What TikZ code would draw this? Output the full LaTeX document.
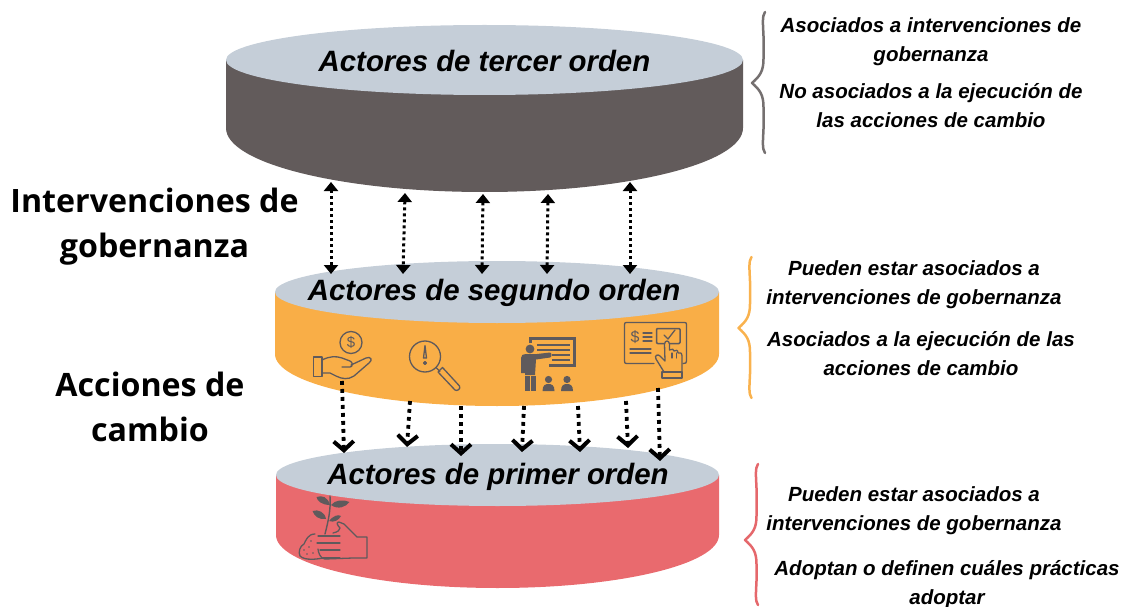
\documentclass[tikz,border=0pt]{standalone}
\usepackage{fontspec}
\setmainfont{Liberation Sans}
\newfontfamily\headfont{Open Sans}
\usetikzlibrary{arrows.meta}
\definecolor{cylGrey}{HTML}{C5CED8}
\definecolor{cylDark}{HTML}{625B5B}
\definecolor{cylOrange}{HTML}{F9AE47}
\definecolor{cylRed}{HTML}{E96A6E}
\definecolor{iconInk}{HTML}{5F5A5C}
\definecolor{braceGrey}{HTML}{757070}
\definecolor{braceOrange}{HTML}{F9B24E}
\definecolor{braceRed}{HTML}{E5686C}
\tikzset{
  cyltitle/.style={font=\bfseries\itshape\fontsize{29.4}{30}\selectfont,inner sep=0pt,text=black},
  sidenote/.style={font=\bfseries\itshape\fontsize{20.5}{29}\selectfont,align=center,inner sep=0pt,text=black},
  headnote/.style={font=\headfont\bfseries\fontsize{32.2}{45}\selectfont,align=center,inner sep=0pt,text=black},
  dbl/.style={line width=3pt,dash pattern=on 3pt off 3pt,{Triangle[length=9pt,width=14pt]}-{Triangle[length=9pt,width=14pt]},black},
  down/.style={line width=3.8pt,dash pattern=on 3.8pt off 4.2pt,-{Straight Barb[length=9pt,width=20pt,line width=4pt]},black},
  bracestroke/.style={line width=2.5pt,line cap=round,line join=round},
  icon/.style={draw=iconInk,line width=1.3pt,line cap=round,line join=round},
  iconfill/.style={fill=iconInk,draw=none},
}
\newcommand{\cyl}[8]{%
  \fill[#7] (#1-#2,#3) -- (#1-#2,#5) arc[start angle=180,end angle=360,x radius=#2,y radius=-#6] -- (#1+#2,#3) -- cycle;
  \fill[cylGrey] (#1,#3) ellipse[x radius=#2,y radius=#4];
}
\newcommand{\bracecurl}[5]{% spine x, tip x, top y, mid y, bottom y
  \draw[bracestroke] (#1+2,#3) .. controls (#1-1,#3+4) and (#1,#3+12) .. (#1+.5,#3+24)
    -- (#1+.5,#4-24)
    .. controls (#1+.5,#4-12) and (#1-3,#4-7) .. (#2,#4)
    .. controls (#1-3,#4+7) and (#1+.5,#4+12) .. (#1+.5,#4+24)
    -- (#1+.5,#5-24)
    .. controls (#1,#5-12) and (#1-1,#5-4) .. (#1+2,#5);
}
\begin{document}
\begin{tikzpicture}[x=1pt,y=-1pt]
\useasboundingbox (0,0) rectangle (1122,607);
% cylinders
\cyl{484.5}{258.5}{60}{35}{128}{64}{cylDark}{}
\cyl{497}{222}{292}{31}{354}{52}{cylOrange}{}
\cyl{497.5}{221.5}{475}{31}{535}{53}{cylRed}{}
% titles
\node[cyltitle] (t3) at (484.5,60.5) {Actores de tercer orden};
\node[cyltitle] (t2) at (494,293) {Actores de segundo orden};
\node[cyltitle] (t1) at (498,477) {Actores de primer orden};
% headings
\node[headnote] (h1) at (154.5,226.5) {Intervenciones de\\gobernanza};
\node[headnote] (h2) at (150,407) {Acciones de\\cambio};
% side notes
\node[sidenote] (n1) at (931,42) {Asociados a intervenciones de\\gobernanza};
\node[sidenote] (n2) at (931,106) {No asociados a la ejecución de\\las acciones de cambio};
\node[sidenote] (n3) at (914,285) {Pueden estar asociados a\\intervenciones de gobernanza};
\node[sidenote] (n4) at (921,354) {Asociados a la ejecución de las\\acciones de cambio};
\node[sidenote] (n5) at (914,511) {Pueden estar asociados a\\intervenciones de gobernanza};
\node[sidenote] (n6) at (947,585) {Adoptan o definen cuáles prácticas\\adoptar};
% braces
\begin{scope}[draw=braceGrey]\bracecurl{763}{752}{12}{83}{153}\end{scope}
\begin{scope}[draw=braceOrange]\bracecurl{749.5}{738.5}{257}{328}{398}\end{scope}
\begin{scope}[draw=braceRed]\bracecurl{756}{745}{464}{540}{605}\end{scope}
% double arrows
\foreach \n/\xa/\ya/\xb in {a/331/182/331,b/405/193/403,c/483/194/482,d/548/194/547,e/630/182/630}{
  \coordinate (up\n) at (\xa,\ya);
  \coordinate (lo\n) at (\xb,274);
  \draw[dbl] (up\n) -- (lo\n);
}
% down arrows
\foreach \n/\xa/\ya/\xb/\yb in {a/342/381/344/453,b/410/401/407/447,c/461/406/461/456,d/524/406/522/452,e/578/406/580/452,f/626/401/628/448,g/658/388/660/461}{
  \coordinate (from\n) at (\xa,\ya);
  \coordinate (to\n) at (\xb,\yb);
  \draw[down] (from\n) -- (to\n);
}
% ---- icon: hand with coin
\draw[icon] (351,342.5) circle[radius=11];
\node[text=iconInk,font=\fontsize{15}{15}\selectfont,inner sep=0pt] (coin) at (351,342.5) {\$};
\draw[icon] (313.5,357) rectangle (322,376.5);
\draw[icon] (322,360) .. controls (330,356) and (336,356) .. (342,358) -- (350,361) .. controls (353,362) and (353,367) .. (350,367) -- (342,367)
 (351,365) -- (366,358) .. controls (371,356) and (373,360) .. (369,363) -- (354,376) .. controls (348,380) and (342,379) .. (336,376) -- (330,373) -- (322,373);
% ---- icon: magnifier
\draw[icon] (425,356.5) circle[radius=15.5];
\draw[icon] (425,345.5) -- (423.5,358) -- (426.5,358) -- cycle;
\draw[icon] (425,363) circle[radius=1.4];
\draw[icon] (436,367.5) -- (440,371.5);
\draw[icon] (438,372) -- (442.5,367.5) -- (459.5,386) .. controls (461,389) and (457,391.5) .. (455,390) -- cycle;
% ---- icon: teacher and board
\draw[iconInk,line width=3pt] (530.5,343) -- (530.5,338.5) -- (574.5,338.5) -- (574.5,365.5) -- (549,365.5);
\draw[iconInk,line width=1.7pt] (537,345) -- (570,345) (537,350) -- (570,350) (552,355) -- (570,355) (552,360) -- (570,360);
\fill[iconfill] (530,349) circle[radius=4.4];
\fill[iconfill] (521,358) .. controls (521,355) and (523,354) .. (526,354) -- (537,354) -- (550,352.5) .. controls (552,352.5) and (552,357.5) .. (550,357.5) -- (536,359.5) -- (535,375) -- (525,375) -- (525,373) -- (521,373) -- cycle;
\fill[iconfill] (525,376) rectangle (529.5,391);
\fill[iconfill] (531,376) rectangle (535.5,391);
\foreach \n/\cx in {p/548.5,q/567}{
  \fill[iconfill] (\cx,379.5) circle[radius=3.6];
  \fill[iconfill] (\cx-6,391) .. controls (\cx-6,385) and (\cx-3,384) .. (\cx,384) .. controls (\cx+3,384) and (\cx+6,385) .. (\cx+6,391) -- cycle;
}
% ---- icon: touch screen
\draw[icon] (654,363.5) -- (626.5,363.5) .. controls (625,363.5) and (624.5,363) .. (624.5,361) -- (624.5,324.5) .. controls (624.5,323) and (625,322.5) .. (626.5,322.5) -- (684.5,322.5) .. controls (686,322.5) and (686.5,323) .. (686.5,324.5) -- (686.5,361) .. controls (686.5,363) and (686,363.5) .. (683,363.5);
\node[text=iconInk,font=\fontsize{16}{16}\selectfont,inner sep=0pt] (cash) at (635,337) {\$};
\draw[icon] (643,333) -- (652,333) (643,337) -- (652,337) (643,341) -- (652,341);
\draw[icon] (630,349) -- (651,349) (630,353) -- (651,353);
\draw[icon,line width=1.5pt,rounded corners=1pt] (656.5,328.5) rectangle (680,343.5);
\draw[icon] (664,335) -- (668,339) -- (675,330);
\draw[icon,fill=cylOrange] (664,372) -- (656,359) .. controls (654,355) and (658,354) .. (660,356) -- (665,361) -- (664.5,344) .. controls (665,340) and (669,340) .. (669.5,344) -- (669.5,350) .. controls (672,348.5) and (674,349) .. (674,351) .. controls (676,349.5) and (678,350) .. (678,353) .. controls (680,352) and (682,353) .. (682,356) -- (682,372) -- cycle;
\draw[icon] (672,353) -- (672,358) (676.5,353) -- (676.5,358);
\draw[icon] (662,372) rectangle (682,378);
% ---- icon: plant in hand
\draw[icon,line width=1.4pt] (330,496) .. controls (331,510) and (328,522) .. (325,534);
\fill[iconfill] (330,505) .. controls (322,505) and (317,501) .. (316.5,497) .. controls (322,495) and (328,497) .. (330,505) -- cycle;
\fill[iconfill] (331,505) .. controls (335,500) and (343,499) .. (349.5,502) .. controls (346,507) and (338,510) .. (331,505) -- cycle;
\fill[iconfill] (326,519) .. controls (319,520) and (314,516) .. (312.5,511) .. controls (318,509) and (325,512) .. (326,519) -- cycle;
\fill[iconfill] (329,521) .. controls (333,516) and (338,514) .. (341,516) .. controls (339,520) and (334,523) .. (329,521) -- cycle;
\draw[icon] (333,533) .. controls (338,532) and (340,530) .. (340,528) .. controls (337,525) and (336,522) .. (339,522) -- (344,524) -- (357,537) -- (367,537) -- (367,558) -- (353,558) -- (325,559) .. controls (320,559) and (318,551) .. (318,549);
\draw[icon] (318,536) -- (340,536) (317,543) -- (340,543) (320,550) -- (340,550) (323,558) -- (340,558);
\draw[icon] (315,534) .. controls (308,534) and (306,540) .. (304,544) .. controls (300,546) and (298,552) .. (300,556) .. controls (305,561) and (318,559) .. (323,558);
\fill[iconfill] (304,550) circle[radius=.8] (309,547) circle[radius=.8] (307,554) circle[radius=.8] (313,553) circle[radius=.8] (311,541) circle[radius=.8];
\end{tikzpicture}
\end{document}
